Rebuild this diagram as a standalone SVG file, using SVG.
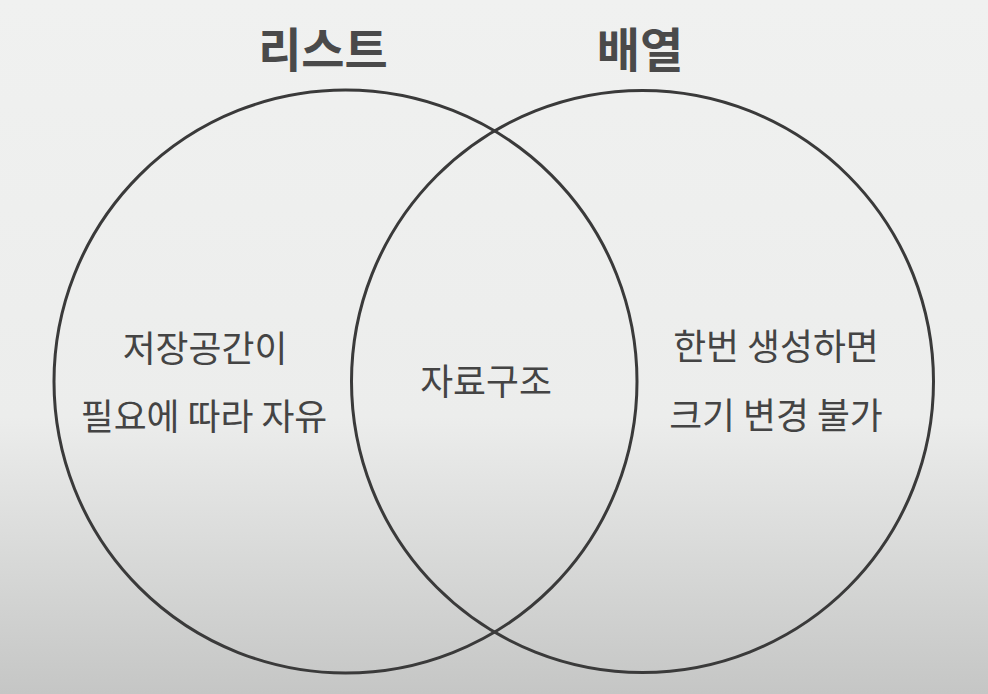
<svg xmlns="http://www.w3.org/2000/svg" width="988" height="694" viewBox="0 0 988 694">
<defs>
<linearGradient id="bg" x1="0" y1="0" x2="0" y2="1">
<stop offset="0" stop-color="#f0f1f0"/>
<stop offset="0.6" stop-color="#ecedec"/>
<stop offset="1" stop-color="#c5c6c5"/>
</linearGradient>
<style>
.c{fill:none;stroke:#3a3a3a;stroke-width:3}
.t{font-family:"Noto Sans CJK KR","Noto Sans",sans-serif;fill:#444;text-anchor:middle}
.h{font-size:47px;font-weight:bold;fill:#4a4a4a}
.b{font-size:35.8px}
</style>
</defs>
<rect width="988" height="694" fill="url(#bg)"/>
<g id="list">
<circle class="c" cx="345.5" cy="381.5" r="291.5"/>
<text class="t h" x="323" y="67">리스트</text>
<text class="t b" x="205" y="362">저장공간이</text>
<text class="t b" x="204" y="430">필요에 따라 자유</text>
</g>
<g id="array">
<circle class="c" cx="642.5" cy="381.5" r="291"/>
<text class="t h" x="640" y="67">배열</text>
<text class="t b" x="776" y="360">한번 생성하면</text>
<text class="t b" x="776" y="429">크기 변경 불가</text>
</g>
<g id="common">
<text class="t b" x="486" y="395">자료구조</text>
</g>
<g id="connectors"></g>
</svg>
